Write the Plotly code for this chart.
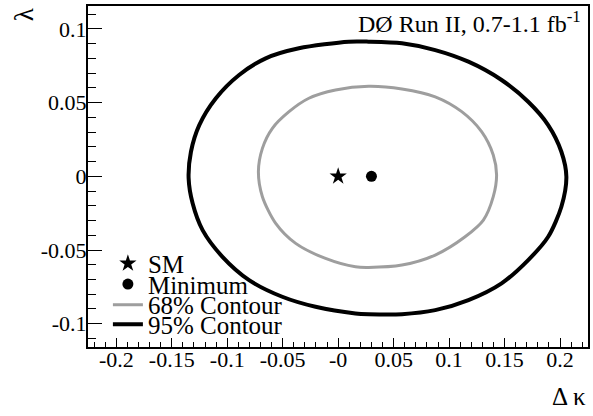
import plotly.graph_objects as go

# ---- data ----
c95_dk = [0.0096, -0.0354, -0.0653, -0.0893, -0.1102, -0.1252, -0.1327, -0.1348,
          -0.1312, -0.1222, -0.1043, -0.0803, -0.0504, -0.0204, 0.0156, 0.0275,
          0.0575, 0.0875, 0.1174, 0.1473, 0.1713, 0.1893, 0.2012, 0.2057,
          0.2012, 0.1893, 0.1713, 0.1473, 0.1174, 0.0875, 0.0575, 0.0275, 0.0096]
c95_lam = [0.0914, 0.0869, 0.0801, 0.0688, 0.0530, 0.0348, 0.0167, -0.0012,
           -0.0183, -0.0365, -0.0546, -0.0704, -0.0817, -0.0885, -0.0930, -0.0935,
           -0.0935, -0.0908, -0.0840, -0.0726, -0.0568, -0.0410, -0.0206, -0.0003,
           0.0167, 0.0348, 0.0506, 0.0654, 0.0778, 0.0857, 0.0903, 0.0914, 0.0914]

c68_dk = [0.0275, -0.0024, -0.0264, -0.0443, -0.0593, -0.0683, -0.0719, -0.0683,
          -0.0563, -0.0383, -0.0114, 0.0156, 0.0275, 0.0575, 0.0875, 0.1144,
          0.1309, 0.1398, 0.1428, 0.1398, 0.1293, 0.1114, 0.0875, 0.0575, 0.0275]
c68_lam = [0.0611, 0.0586, 0.0530, 0.0439, 0.0326, 0.0190, 0.0031, -0.0138,
           -0.0319, -0.0455, -0.0557, -0.0614, -0.0618, -0.0602, -0.0534, -0.0410,
           -0.0297, -0.0138, 0.0009, 0.0145, 0.0303, 0.0439, 0.0540, 0.0593, 0.0611]

sm_point = ([0.0], [0.0])
min_point = ([0.03], [0.0])

x_tickvals = [-0.2, -0.15, -0.1, -0.05, 0.0, 0.05, 0.1, 0.15, 0.2]
x_ticktext = ["-0.2", "-0.15", "-0.1", "-0.05", "-0", "0.05", "0.1", "0.15", "0.2"]
y_tickvals = [-0.1, -0.05, 0.0, 0.05, 0.1]
y_ticktext = ["-0.1", "-0.05", "0", "0.05", "0.1"]

FONT = "Liberation Serif, Times New Roman, Times, serif"
GRAY = "#9e9e9e"

fig = go.Figure()
fig.add_trace(go.Scatter(x=sm_point[0], y=sm_point[1], mode="markers", name="SM",
                         marker=dict(symbol="star", size=13, color="black"), legend="legend"))
fig.add_trace(go.Scatter(x=min_point[0], y=min_point[1], mode="markers", name="Minimum",
                         marker=dict(symbol="circle", size=11, color="black"), legend="legend2"))
fig.add_trace(go.Scatter(x=c68_dk, y=c68_lam, mode="lines", name="68% Contour",
                         line=dict(color=GRAY, width=3, shape="spline", smoothing=0.8), legend="legend3"))
fig.add_trace(go.Scatter(x=c95_dk, y=c95_lam, mode="lines", name="95% Contour",
                         line=dict(color="black", width=4, shape="spline", smoothing=0.8), legend="legend4"))

def leg(y):
    return dict(x=0.0398, y=y, xanchor="left", yanchor="middle", bgcolor="rgba(0,0,0,0)",
                borderwidth=0, font=dict(family=FONT, size=25, color="black"),
                itemwidth=30, tracegroupgap=0)

axis_common = dict(showline=True, linecolor="black", linewidth=2, mirror=True,
                   ticks="inside", tickcolor="black", tickwidth=1, showgrid=False,
                   zeroline=False, tickfont=dict(family=FONT, size=22, color="black"))

fig.update_layout(
    width=593, height=416,
    margin=dict(l=88, r=3, t=6, b=69),
    paper_bgcolor="white", plot_bgcolor="white",
    font=dict(family=FONT, color="black"),
    showlegend=True,
    legend=leg(0.2444), legend2=leg(0.1838), legend3=leg(0.1232), legend4=leg(0.0660),
    xaxis=dict(range=[-0.2255, 0.2252], tickvals=x_tickvals, ticktext=x_ticktext, ticklen=9,
               ticklabelstandoff=-8,
               minor=dict(ticks="inside", ticklen=5, dtick=0.01, tickcolor="black", tickwidth=1),
               **axis_common),
    yaxis=dict(range=[-0.1158, 0.1156], tickvals=y_tickvals, ticktext=y_ticktext, ticklen=14,
               ticklabelstandoff=-5,
               minor=dict(ticks="inside", ticklen=8, dtick=0.01, tickcolor="black", tickwidth=1),
               **axis_common),
    annotations=[
        dict(text="DØ Run II, 0.7-1.1 fb<sup>-1</sup>", xref="paper", yref="paper",
             x=0.99, y=0.953, xanchor="right", yanchor="middle", showarrow=False,
             font=dict(family=FONT, size=24, color="black")),
        dict(text="λ", xref="paper", yref="paper", x=-0.1275, y=0.9736, textangle=-90,
             xanchor="center", yanchor="middle", showarrow=False,
             font=dict(family=FONT, size=27, color="black")),
        dict(text="Δ κ", xref="paper", yref="paper", x=1.0, y=-0.1437,
             xanchor="right", yanchor="middle", showarrow=False,
             font=dict(family=FONT, size=25, color="black")),
    ],
)

fig.write_html("out.html", config={"displayModeBar": False},
               post_script="document.body.style.margin='0';document.body.style.padding='0';")
